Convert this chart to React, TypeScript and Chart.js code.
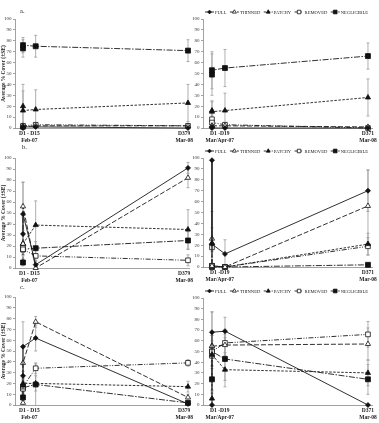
import { useEffect, useRef } from "react";
import { Chart, registerables } from "chart.js";

Chart.register(...registerables);

const seriesNames = ["FULL", "THINNED", "PATCHY", "REMOVED", "NEGLIGIBLE"];

// Survey positions on the time axis (months after the first survey).
// The first two entries are the repeat surveys of the first days.
const febSurveyX = [0, 0, 1, 13];
const marSurveyX = [0, 0, 1, 12];

const febTickLabels = [["D1 - D15", "Feb-07"], ["D379", "Mar-08"]];
const marTickLabels = [["D1 -D19", "Mar/Apr-07"], ["D371", "Mar-08"]];

// Rows follow seriesNames: FULL, THINNED, PATCHY, REMOVED, NEGLIGIBLE
const aFebMean = [
  [0, 1, 1, 0],
  [2, 1, 2, 2],
  [20, 16, 17, 23],
  [1, 2, 3, 2],
  [73, 76, 75, 71],
];
const aFebSE = [
  [1, 1, 1, 1],
  [1, 1, 1, 1],
  [20, 18, 18, 17],
  [1, 1, 2, 1],
  [8, 7, 10, 10],
];

const aMarMean = [
  [1, 0, 0, 0],
  [2, 2, 2, 1],
  [16, 15, 16, 28],
  [8, 5, 3, 0],
  [49, 53, 55, 66],
];
const aMarSE = [
  [1, 1, 0, 0],
  [1, 1, 1, 1],
  [9, 9, 16, 17],
  [4, 3, 2, 1],
  [19, 17, 17, 12],
];

const bFebMean = [
  [31, 49, 3, 91],
  [22, 56, 0, 82],
  [22, 22, 39, 35],
  [19, 17, 11, 7],
  [5, 17, 18, 25],
];
const bFebSE = [
  [15, 29, 4, 5],
  [10, 22, 1, 9],
  [8, 8, 22, 18],
  [5, 5, 5, 5],
  [3, 6, 6, 8],
];

const bMarMean = [
  [98, 21, 12, 70],
  [26, 1, 0, 56],
  [22, 1, 0, 21],
  [18, 1, 0, 19],
  [1, 0, 0, 2],
];
const bMarSE = [
  [0, 30, 13, 19],
  [10, 1, 0, 33],
  [5, 1, 0, 10],
  [4, 1, 0, 8],
  [1, 0, 0, 1],
];

const cFebMean = [
  [27, 54, 62, 1],
  [2, 39, 77, 7],
  [18, 20, 20, 17],
  [15, 17, 34, 39],
  [7, 16, 19, 2],
];
const cFebSE = [
  [10, 23, 12, 1],
  [2, 15, 5, 3],
  [5, 5, 7, 5],
  [5, 5, 5, 3],
  [3, 5, 19, 1],
];

const cMarMean = [
  [0, 68, 69, 0],
  [55, 55, 56, 57],
  [6, 47, 33, 30],
  [46, 50, 58, 66],
  [24, 50, 43, 24],
];
const cMarSE = [
  [0, 19, 13, 0],
  [10, 10, 10, 15],
  [5, 10, 16, 12],
  [10, 10, 12, 12],
  [10, 37, 20, 14],
];

const SERIF = '"Liberation Serif", "Times New Roman", serif';
const INK = "#1a1a1a";

type MarkerKind = "rectRot" | "triangle" | "rect";
const seriesStyle: { dash: number[]; point: MarkerKind; fill: string; r: number }[] = [
  { dash: [], point: "rectRot", fill: "#111", r: 2.5 },
  { dash: [5, 2], point: "triangle", fill: "#fff", r: 3 },
  { dash: [2.5, 1.5], point: "triangle", fill: "#111", r: 3 },
  { dash: [5, 1.5, 1, 1.5, 1, 1.5], point: "rect", fill: "#fff", r: 3.3 },
  { dash: [6, 1.5, 1.5, 1.5], point: "rect", fill: "#111", r: 3.5 },
];

type PanelSpec = {
  id: string;
  left: number;
  top: number;
  w: number;
  h: number;
  area: { l: number; t: number; r: number; b: number };
  xs: number[];
  xMin: number;
  xMax: number;
  tickAt: number[];
  tickLabels: string[][];
  means: number[][];
  se: number[][];
  letter?: { text: string; x: number; y: number };
  legendY?: number;
  yTitle: boolean;
};

const panels: PanelSpec[] = [
  {
    id: "a-feb", left: 0, top: 0, w: 200, h: 143,
    area: { l: 15, t: 19, r: 189, b: 128 },
    xs: febSurveyX, xMin: -0.63, xMax: 13.08, tickAt: [0.5, 12.7], tickLabels: febTickLabels,
    means: aFebMean, se: aFebSE, letter: { text: "a.", x: 20, y: 11 }, yTitle: true,
  },
  {
    id: "a-mar", left: 190, top: 0, w: 189, h: 143,
    area: { l: 13, t: 19, r: 182, b: 128 },
    xs: marSurveyX, xMin: -0.69, xMax: 12.31, tickAt: [0.6, 12], tickLabels: marTickLabels,
    means: aMarMean, se: aMarSE, legendY: 12, yTitle: false,
  },
  {
    id: "b-feb", left: 0, top: 140, w: 200, h: 143,
    area: { l: 15, t: 18, r: 189, b: 128 },
    xs: febSurveyX, xMin: -0.63, xMax: 13.08, tickAt: [0.5, 12.7], tickLabels: febTickLabels,
    means: bFebMean, se: bFebSE, letter: { text: "b.", x: 22, y: 7 }, yTitle: true,
  },
  {
    id: "b-mar", left: 190, top: 140, w: 189, h: 143,
    area: { l: 13, t: 18, r: 182, b: 127 },
    xs: marSurveyX, xMin: -0.69, xMax: 12.31, tickAt: [0.6, 12], tickLabels: marTickLabels,
    means: bMarMean, se: bMarSE, legendY: 11, yTitle: false,
  },
  {
    id: "c-feb", left: 0, top: 280, w: 200, h: 143,
    area: { l: 15, t: 17, r: 189, b: 125 },
    xs: febSurveyX, xMin: -0.63, xMax: 13.08, tickAt: [0.5, 12.7], tickLabels: febTickLabels,
    means: cFebMean, se: cFebSE, letter: { text: "c.", x: 20, y: 7 }, yTitle: true,
  },
  {
    id: "c-mar", left: 190, top: 280, w: 189, h: 143,
    area: { l: 13, t: 18, r: 182, b: 125 },
    xs: marSurveyX, xMin: -0.69, xMax: 12.31, tickAt: [0.6, 12], tickLabels: marTickLabels,
    means: cMarMean, se: cMarSE, legendY: 11, yTitle: false,
  },
];

function drawMarker(
  ctx: CanvasRenderingContext2D,
  kind: MarkerKind,
  x: number,
  y: number,
  r: number,
  fill: string
) {
  ctx.beginPath();
  if (kind === "rectRot") {
    ctx.moveTo(x, y - r);
    ctx.lineTo(x + r, y);
    ctx.lineTo(x, y + r);
    ctx.lineTo(x - r, y);
  } else if (kind === "triangle") {
    for (let k = 0; k < 3; k++) {
      const a = (k * 2 * Math.PI) / 3;
      const px = x + Math.sin(a) * r;
      const py = y - Math.cos(a) * r;
      if (k === 0) ctx.moveTo(px, py);
      else ctx.lineTo(px, py);
    }
  } else {
    const s = r * Math.SQRT1_2;
    ctx.rect(x - s, y - s, 2 * s, 2 * s);
  }
  ctx.closePath();
  ctx.fillStyle = fill;
  ctx.fill();
  ctx.setLineDash([]);
  ctx.lineWidth = 0.8;
  ctx.strokeStyle = "#111";
  ctx.stroke();
}

function Panel({ spec }: { spec: PanelSpec }) {
  const ref = useRef<HTMLCanvasElement | null>(null);

  useEffect(() => {
    const canvas = ref.current;
    if (!canvas) return;

    // Standard-error whiskers, drawn under the lines and markers
    const errorBars = {
      id: "errorBars",
      beforeDatasetsDraw(chart: any) {
        const ctx: CanvasRenderingContext2D = chart.ctx;
        const yScale = chart.scales.y;
        ctx.save();
        ctx.strokeStyle = "#9a9a9a";
        ctx.lineWidth = 0.8;
        ctx.setLineDash([]);
        spec.means.forEach((vals, i) => {
          const meta = chart.getDatasetMeta(i);
          vals.forEach((v, j) => {
            const e = spec.se[i][j];
            if (!e) return;
            const x = meta.data[j].x;
            const yTop = yScale.getPixelForValue(Math.min(v + e, 100));
            const yBot = yScale.getPixelForValue(Math.max(v - e, 0));
            ctx.beginPath();
            ctx.moveTo(x, yTop);
            ctx.lineTo(x, yBot);
            ctx.moveTo(x - 1.5, yTop);
            ctx.lineTo(x + 1.5, yTop);
            if (v - e > 0) {
              ctx.moveTo(x - 1.5, yBot);
              ctx.lineTo(x + 1.5, yBot);
            }
            ctx.stroke();
          });
        });
        ctx.restore();
      },
    };

    // Panel letter and the series key above the plot
    const decorations = {
      id: "decorations",
      afterDraw(chart: any) {
        const ctx: CanvasRenderingContext2D = chart.ctx;
        ctx.save();
        if (spec.letter) {
          ctx.font = `6.5px ${SERIF}`;
          ctx.fillStyle = INK;
          ctx.textBaseline = "middle";
          ctx.textAlign = "left";
          ctx.fillText(spec.letter.text, spec.letter.x, spec.letter.y);
        }
        if (spec.legendY !== undefined) {
          const y = spec.legendY;
          ctx.font = `4.6px ${SERIF}`;
          const sample = 9;
          const gapAfterSample = 1;
          const widths = seriesNames.map((n) => ctx.measureText(n).width);
          const used = widths.reduce((s, w) => s + w + sample + gapAfterSample, 0);
          const x0 = 15;
          const x1 = 178;
          const gap = (x1 - x0 - used) / (seriesNames.length - 1);
          let x = x0;
          seriesNames.forEach((name, i) => {
            const st = seriesStyle[i];
            ctx.beginPath();
            ctx.setLineDash(st.dash);
            ctx.strokeStyle = INK;
            ctx.lineWidth = 0.9;
            ctx.moveTo(x, y);
            ctx.lineTo(x + sample, y);
            ctx.stroke();
            drawMarker(ctx, st.point, x + sample / 2, y, st.r * 0.75, st.fill);
            x += sample + gapAfterSample;
            ctx.fillStyle = INK;
            ctx.textAlign = "left";
            ctx.textBaseline = "middle";
            ctx.fillText(name, x, y + 0.3);
            x += widths[i] + gap;
          });
        }
        ctx.restore();
      },
    };

    const datasets = spec.means.map((vals, i) => {
      const st = seriesStyle[i];
      return {
        label: seriesNames[i],
        data: vals.map((v, j) => ({ x: spec.xs[j], y: v })),
        borderColor: INK,
        borderWidth: 0.9,
        borderDash: st.dash,
        pointStyle: st.point,
        pointRadius: st.r,
        pointBackgroundColor: st.fill,
        pointBorderColor: "#111",
        pointBorderWidth: 0.8,
        tension: 0,
        fill: false,
        clip: false as any,
      };
    });

    const { area, w, h } = spec;

    const chart = new Chart(canvas, {
      type: "line",
      data: { datasets },
      plugins: [errorBars, decorations],
      options: {
        animation: false,
        responsive: false,
        devicePixelRatio: 1,
        events: [],
        layout: { padding: { left: 0, top: area.t, right: w - area.r, bottom: 0 } },
        plugins: {
          legend: { display: false },
          tooltip: { enabled: false },
        },
        scales: {
          x: {
            type: "linear",
            min: spec.xMin,
            max: spec.xMax,
            grid: { display: false, drawTicks: false, tickLength: 0 },
            border: { display: true, color: "#8a8a8a", width: 0.8 },
            afterFit(scale: any) {
              scale.height = h - area.b;
              scale.paddingLeft = 0;
              scale.paddingRight = 0;
            },
            afterBuildTicks(scale: any) {
              scale.ticks = spec.tickAt.map((v) => ({ value: v }));
            },
            ticks: {
              autoSkip: false,
              maxRotation: 0,
              minRotation: 0,
              padding: 2,
              color: INK,
              font: { family: SERIF, size: 5.5, weight: "bold", lineHeight: 1.25 },
              callback: (_v: any, index: number) => spec.tickLabels[index],
            },
          },
          y: {
            min: 0,
            max: 100,
            grid: {
              drawOnChartArea: false,
              drawTicks: true,
              tickLength: 2,
              color: "#8a8a8a",
              lineWidth: 0.8,
            },
            border: { display: true, color: "#8a8a8a", width: 0.8 },
            afterFit(scale: any) {
              scale.width = area.l;
              scale.paddingTop = 0;
              scale.paddingBottom = 0;
            },
            ticks: {
              stepSize: 10,
              padding: 1.5,
              color: "#333",
              font: { family: SERIF, size: 5 },
            },
            title: {
              display: spec.yTitle,
              text: "Average % Cover (±SE)",
              color: INK,
              padding: 0,
              font: { family: SERIF, size: 5.5, weight: "bold" },
            },
          },
        },
      } as any,
    });

    return () => chart.destroy();
  }, [spec]);

  return (
    <canvas
      ref={ref}
      width={spec.w}
      height={spec.h}
      style={{ position: "absolute", left: spec.left, top: spec.top, width: spec.w, height: spec.h }}
    />
  );
}

export default function App() {
  return (
    <div
      style={{
        position: "absolute",
        left: 0,
        top: 0,
        width: 379,
        height: 423,
        background: "#fff",
        overflow: "hidden",
      }}
    >
      {panels.map((p) => (
        <Panel key={p.id} spec={p} />
      ))}
    </div>
  );
}
